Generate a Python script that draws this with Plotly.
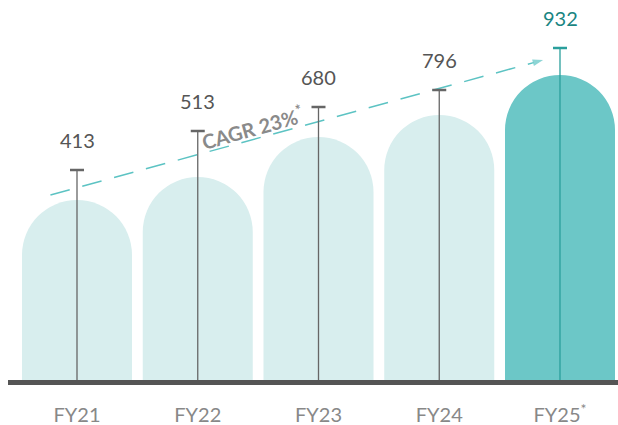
import plotly.graph_objects as go

# ---- data ----
years = ["FY21", "FY22", "FY23", "FY24", "FY25<sup>*</sup>"]
values = [413, 513, 680, 796, 932]              # printed labels
pillar_heights = [180, 203, 243, 265, 305]      # illustrative pillar heights (chart units)
stem_heights = [210, 249, 273, 290, 332]        # illustrative marker stem heights (chart units)
trend_x = [-0.22, 3.86]
trend_y = [185, 320]
cagr_text = "CAGR 23%<sup>*</sup>"

light = "#d8eeee"
teal = "#6cc7c7"
stem_grey = "#666666"
stem_teal = "#2a9f9c"
xs = list(range(len(years)))

fig = go.Figure()

fig.add_trace(go.Bar(
    x=xs, y=pillar_heights, width=0.911,
    marker=dict(color=[light] * 4 + [teal], line=dict(width=0)),
    hoverinfo="skip",
))

# trend dashed line with arrowhead at the end
fig.add_trace(go.Scatter(
    x=trend_x, y=trend_y, mode="lines+markers",
    line=dict(color="#5cc3c3", width=1.5, dash="20px,13px"),
    marker=dict(symbol="arrow", angleref="previous", size=[0, 11],
                color="#5cc3c3", line=dict(width=0)),
    hoverinfo="skip",
))

# stems with caps
for idx, col in [([0, 1, 2, 3], stem_grey), ([4], stem_teal)]:
    fig.add_trace(go.Scatter(
        x=[xs[i] for i in idx], y=[stem_heights[i] for i in idx],
        mode="markers",
        marker=dict(symbol="line-ew", size=10, line=dict(color=col, width=2.5)),
        error_y=dict(type="data", symmetric=False,
                     array=[0] * len(idx),
                     arrayminus=[stem_heights[i] for i in idx],
                     width=0, thickness=1.3, color=col),
        hoverinfo="skip",
    ))

# value labels
for i, v in enumerate(values):
    fig.add_annotation(
        x=xs[i], y=stem_heights[i], text=str(v), showarrow=False,
        yanchor="bottom", yshift=16,
        font=dict(family="Lato", size=20,
                  color=("#1a8582" if i == 4 else "#555555")),
    )

# CAGR text
fig.add_annotation(
    x=1.45, y=253, text="<b>" + cagr_text + "</b>", showarrow=False,
    textangle=-15.5, font=dict(family="Lato", size=20, color="#8a8a8a"),
)

fig.update_layout(
    width=618, height=425,
    margin=dict(l=8, r=0, t=0, b=45),
    paper_bgcolor="white", plot_bgcolor="white",
    showlegend=False,
    barcornerradius="50%",
    xaxis=dict(
        range=[-0.5714, 4.4803], tickvals=xs, ticktext=years,
        showgrid=False, zeroline=False,
        showline=True, linecolor="#555555", linewidth=5,
        ticks="", ticklabelstandoff=13,
        tickfont=dict(family="Lato", size=20, color="#888888"),
        fixedrange=True,
    ),
    yaxis=dict(range=[0, 380], visible=False, fixedrange=True),
)

fig.write_html(
    "out.html",
    config={"displayModeBar": False},
    post_script="document.body.style.margin='0';document.body.style.overflow='hidden';",
)
